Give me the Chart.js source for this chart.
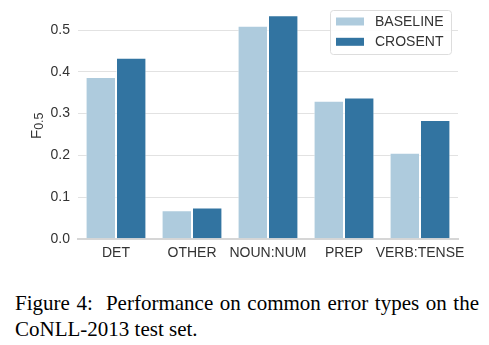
<!DOCTYPE html>
<html>
<head>
<meta charset="utf-8">
<script src="https://cdn.jsdelivr.net/npm/chart.js@4/dist/chart.umd.min.js"></script>
<style>
  html, body { margin: 0; padding: 0; background: #fff; }
  #wrap { position: relative; width: 489px; height: 345px; overflow: hidden; }
  #chart { position: absolute; left: 0; top: 0; }
  #caption {
    position: absolute; left: 15px; top: 290px; width: 464px;
    font-family: "Liberation Serif", "Times New Roman", serif;
    font-size: 21px; line-height: 26px; color: #000;
    text-align: justify; text-align-last: left;
  }
</style>
</head>
<body>
<div id="wrap">
  <canvas id="chart" width="489" height="270"></canvas>
  <div id="caption">Figure 4:&nbsp; Performance on common error types on the CoNLL-2013 test set.</div>
</div>
<script>
// Error categories and F0.5 scores per system
const categories = ['DET', 'OTHER', 'NOUN:NUM', 'PREP', 'VERB:TENSE'];
const baselineScores = [0.388, 0.068, 0.511, 0.331, 0.206];
const crosentScores = [0.434, 0.075, 0.536, 0.339, 0.285];
const seriesNames = ['BASELINE', 'CROSENT'];
const yTickStep = 0.1;
const yMax = 0.563;

const colors = ['#aecbdd', '#3274a1'];
const tickFont = { family: "'Liberation Sans', Arial, sans-serif", size: 14 };

// Legend box and rotated F_{0.5} axis title
const decorations = {
  id: 'decorations',
  afterDraw(chart) {
    const ctx = chart.ctx;
    ctx.save();
    // y-axis title with subscript
    ctx.translate(40.5, 139);
    ctx.rotate(-Math.PI / 2);
    ctx.fillStyle = '#333';
    ctx.textBaseline = 'alphabetic';
    ctx.textAlign = 'left';
    ctx.font = "15px 'Liberation Sans', Arial, sans-serif";
    ctx.fillText('F', 0, 0);
    const fw = ctx.measureText('F').width;
    ctx.font = "12.5px 'Liberation Sans', Arial, sans-serif";
    ctx.fillText('0.5', fw, 2);
    ctx.restore();

    // legend
    ctx.save();
    const bx = 330.5, by = 10.5, bw = 121, bh = 44, r = 3;
    ctx.beginPath();
    ctx.moveTo(bx + r, by);
    ctx.arcTo(bx + bw, by, bx + bw, by + bh, r);
    ctx.arcTo(bx + bw, by + bh, bx, by + bh, r);
    ctx.arcTo(bx, by + bh, bx, by, r);
    ctx.arcTo(bx, by, bx + bw, by, r);
    ctx.closePath();
    ctx.fillStyle = 'rgba(255,255,255,0.9)';
    ctx.fill();
    ctx.strokeStyle = '#dddddd';
    ctx.lineWidth = 1;
    ctx.stroke();
    ctx.font = "14px 'Liberation Sans', Arial, sans-serif";
    ctx.textBaseline = 'middle';
    ctx.textAlign = 'left';
    chart.data.datasets.forEach((ds, i) => {
      const cy = 21.5 + i * 20.3;
      ctx.fillStyle = ds.backgroundColor;
      ctx.fillRect(336, cy - 4, 28, 8);
      ctx.fillStyle = '#333';
      ctx.fillText(ds.label, 375, cy + 0.5);
    });
    ctx.restore();
  }
};

new Chart(document.getElementById('chart'), {
  type: 'bar',
  data: {
    labels: categories,
    datasets: [
      { label: seriesNames[0], data: baselineScores, backgroundColor: colors[0],
        borderColor: 'rgba(255,255,255,0.6)', borderWidth: 1 },
      { label: seriesNames[1], data: crosentScores, backgroundColor: colors[1],
        borderColor: 'rgba(255,255,255,0.6)', borderWidth: 1 }
    ]
  },
  options: {
    responsive: false,
    animation: false,
    devicePixelRatio: 1,
    layout: { padding: { top: 4, right: 31, left: 0, bottom: 0 } },
    datasets: { bar: { categoryPercentage: 0.8, barPercentage: 1.0 } },
    plugins: { legend: { display: false }, tooltip: { enabled: false } },
    scales: {
      x: {
        grid: { display: false, drawTicks: false },
        border: { display: true, color: '#d6d6d6', width: 2 },
        ticks: { font: tickFont, color: '#333', padding: 6, maxRotation: 0, autoSkip: false },
        afterFit(s) { s.height = 31.3; s.paddingLeft = 0; s.paddingRight = 0; }
      },
      y: {
        min: 0,
        max: yMax,
        grid: { color: '#e2e2e2', lineWidth: 1, drawTicks: false },
        border: { display: false },
        ticks: {
          stepSize: yTickStep,
          includeBounds: false,
          font: tickFont,
          color: '#333',
          padding: 8,
          callback: v => v.toFixed(1)
        },
        afterFit(s) { s.width = 78; s.paddingTop = 0; s.paddingBottom = 0; }
      }
    }
  },
  plugins: [decorations]
});
</script>
</body>
</html>
